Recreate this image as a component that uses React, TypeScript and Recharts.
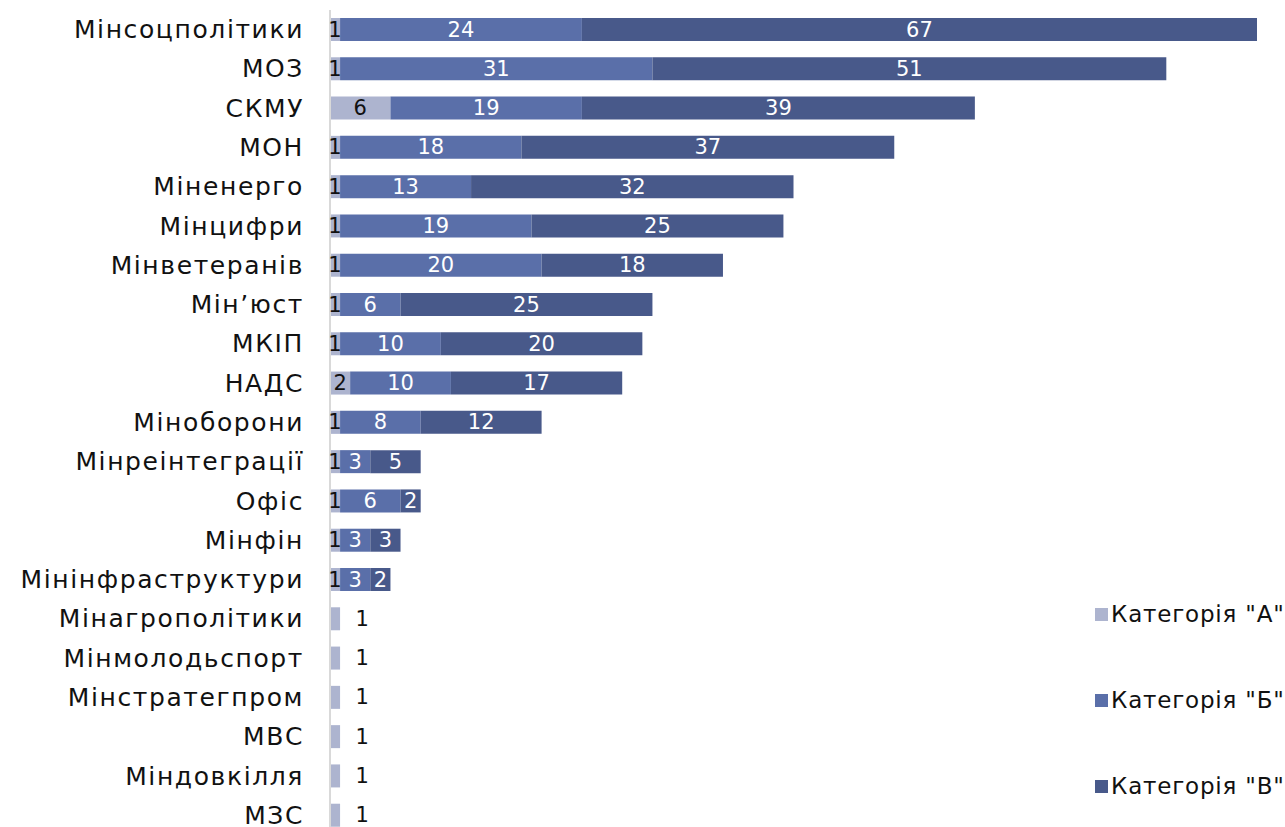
import React from "react";
import { BarChart, Bar, XAxis, YAxis, LabelList } from "recharts";

const categories = [
  "Мінсоцполітики",
  "МОЗ",
  "СКМУ",
  "МОН",
  "Міненерго",
  "Мінцифри",
  "Мінветеранів",
  "Мін’юст",
  "МКІП",
  "НАДС",
  "Міноборони",
  "Мінреінтеграції",
  "Офіс",
  "Мінфін",
  "Мінінфраструктури",
  "Мінагрополітики",
  "Мінмолодьспорт",
  "Мінстратегпром",
  "МВС",
  "Міндовкілля",
  "МЗС",
];

const catA = [1, 1, 6, 1, 1, 1, 1, 1, 1, 2, 1, 1, 1, 1, 1, 1, 1, 1, 1, 1, 1];
const catB = [24, 31, 19, 18, 13, 19, 20, 6, 10, 10, 8, 3, 6, 3, 3, 0, 0, 0, 0, 0, 0];
const catV = [67, 51, 39, 37, 32, 25, 18, 25, 20, 17, 12, 5, 2, 3, 2, 0, 0, 0, 0, 0, 0];

const seriesNames = ['Категорія "А"', 'Категорія "Б"', 'Категорія "В"'];
const colors = ["#adb4cf", "#5a6fa9", "#48598a"];

const FONT = "'DejaVu Sans', sans-serif";

const data = categories.map((name, i) => ({
  name,
  a: catA[i],
  b: catB[i],
  v: catV[i],
}));

function CatTick(props: any) {
  const { x, y, payload } = props;
  return (
    <text
      x={x}
      y={y}
      textAnchor="end"
      dominantBaseline="central"
      fontFamily={FONT}
      fontSize={25}
      letterSpacing={1.6}
      fill="#111"
    >
      {payload.value}
    </text>
  );
}

function ALabel(props: any) {
  const { x, y, width, height, value, index } = props;
  if (!value) return null;
  const alone = !catB[index] && !catV[index];
  const cx = alone ? x + width + 22 : x + width / 2;
  return (
    <text
      x={cx}
      y={y + height / 2}
      textAnchor="middle"
      dominantBaseline="central"
      fontFamily={FONT}
      fontSize={21}
      fill="#111"
    >
      {value}
    </text>
  );
}

function InLabel(props: any) {
  const { x, y, width, height, value } = props;
  if (!value) return null;
  return (
    <text
      x={x + width / 2}
      y={y + height / 2}
      textAnchor="middle"
      dominantBaseline="central"
      fontFamily={FONT}
      fontSize={21}
      fill="#fff"
    >
      {value}
    </text>
  );
}

function LegendBox() {
  return (
    <div
      style={{
        position: "absolute",
        left: 1095,
        top: 599,
        fontFamily: FONT,
      }}
    >
      {seriesNames.map((n, i) => (
        <div
          key={n}
          style={{
            display: "flex",
            alignItems: "center",
            height: 30,
            marginBottom: i < 2 ? 56 : 0,
            fontSize: 23,
            letterSpacing: 0.8,
            color: "#111",
            whiteSpace: "nowrap",
          }}
        >
          <span
            style={{
              width: 13,
              height: 13,
              background: colors[i],
              display: "inline-block",
              marginRight: 3,
            }}
          />
          {n}
        </div>
      ))}
    </div>
  );
}

export default function App() {
  return (
    <div style={{ position: "absolute", left: 0, top: 0, width: 1285, height: 827, background: "#fff", overflow: "hidden" }}>
      <BarChart
        width={1285}
        height={845}
        data={data}
        layout="vertical"
        margin={{ top: 10, right: 28, left: 0, bottom: 10 }}
        barSize={23}
      >
        <XAxis type="number" domain={[0, 92]} hide />
        <YAxis
          type="category"
          dataKey="name"
          width={330}
          tickLine={false}
          tickSize={0}
          tickMargin={26}
          interval={0}
          axisLine={{ stroke: "#d9d9d9", strokeWidth: 2 }}
          tick={<CatTick />}
        />
        <Bar dataKey="a" name={seriesNames[0]} stackId="s" fill={colors[0]} isAnimationActive={false}>
          <LabelList dataKey="a" content={<ALabel />} />
        </Bar>
        <Bar dataKey="b" name={seriesNames[1]} stackId="s" fill={colors[1]} isAnimationActive={false}>
          <LabelList dataKey="b" content={<InLabel />} />
        </Bar>
        <Bar dataKey="v" name={seriesNames[2]} stackId="s" fill={colors[2]} isAnimationActive={false}>
          <LabelList dataKey="v" content={<InLabel />} />
        </Bar>
      </BarChart>
      <LegendBox />
    </div>
  );
}
